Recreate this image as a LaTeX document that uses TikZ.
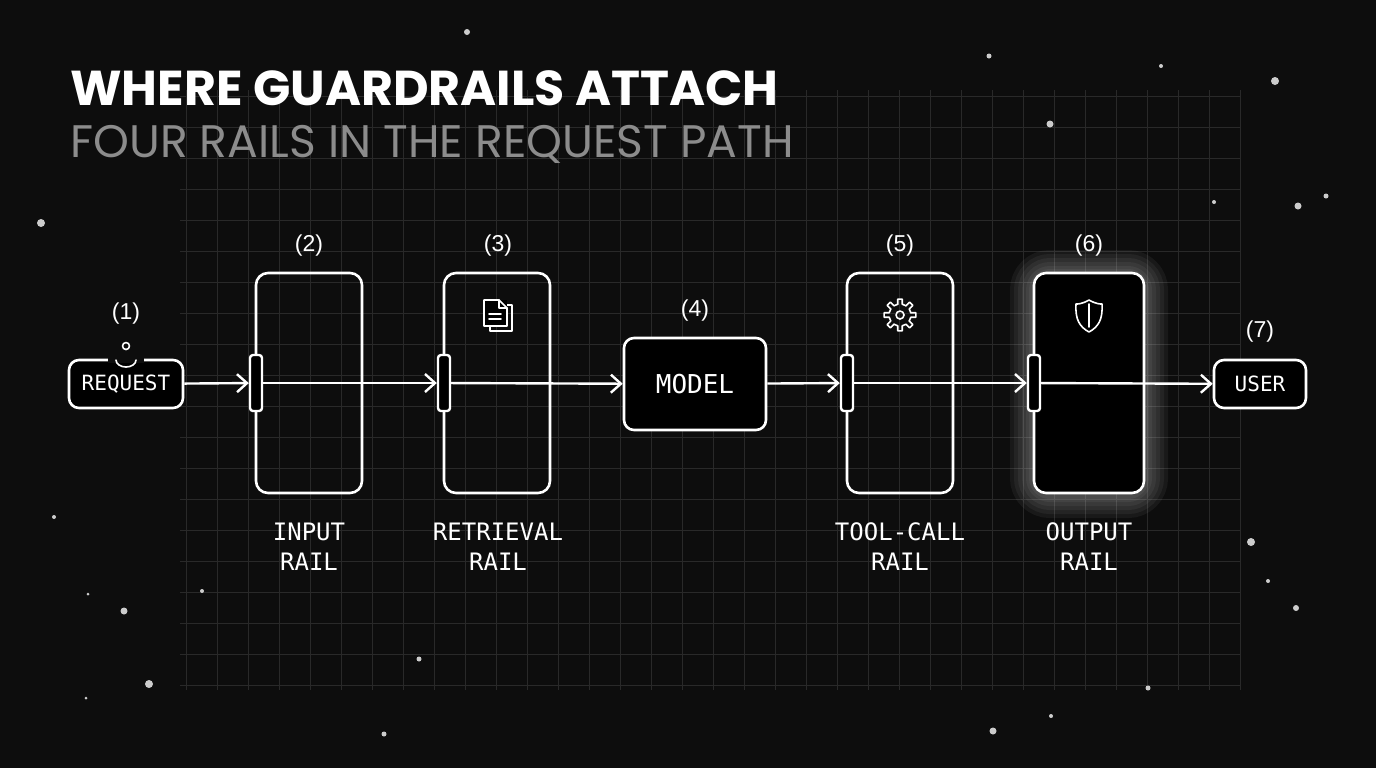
\documentclass[tikz,border=0pt]{standalone}
\usepackage{fontspec}
\setmainfont{Liberation Sans}
\newfontfamily\titlefont{Poppins}
\newfontfamily\monofont{DejaVu Sans Mono}
\usetikzlibrary{positioning,calc,arrows.meta}

\begin{document}
\begin{tikzpicture}[x=0.5pt, y=-0.5pt, >={Straight Barb[length=5pt,width=9pt]}]
    \tikzset{rail/.style = {draw=white, line width=1.3pt, rounded corners=6pt, minimum width=53pt, minimum height=110pt, inner sep=0pt},
             gate/.style = {draw=white, fill=black, line width=1.2pt, rounded corners=1.5pt, minimum width=6pt, minimum height=28pt, inner sep=0pt},
             box/.style = {draw=white, fill=black, line width=1.3pt, rounded corners=5pt, text=white, font=\monofont\fontsize{10.5}{12}\selectfont, inner sep=0pt},
             num/.style = {text=white, font=\fontsize{11.5}{13}\selectfont},
             caption/.style = {text=white, font=\monofont\fontsize{12}{15}\selectfont, align=center},
             flow/.style = {draw=white, line width=1.2pt, ->},
             icon/.style = {draw=white, line width=0.8pt, line join=round, line cap=round}}
    % Background
    \fill[black!95] (0,0) rectangle (1376,768);
    \foreach \x in {186,217,...,1240} \draw[white!16!black, line width=0.4pt] (\x,90) -- (\x,690);
    \foreach \y in {96,127,...,690} \draw[white!16!black, line width=0.4pt] (180,\y) -- (1240,\y);
    \foreach \x/\y/\r in {467/32/3,989/56/2.5,1161/66/2,1275/81/4,1050/124/3.5,41/223/4,1326/196/2.5,1298/206/3.5,1214/202/2,54/517/2,1251/542/4,1268/581/2,1296/608/3,124/611/3.5,202/591/2,88/594/1.5,419/659/2.5,149/684/4,1148/688/2.5,86/698/1.5,1051/716/2,993/731/3.5,384/734/2.5}
        \fill[white!80!black] (\x,\y) circle (\r);
    % Title
    \node[anchor=base west, inner sep=0pt, text=white, font=\titlefont\bfseries\fontsize{24.5}{28}\selectfont] (title) at (70,105) {WHERE GUARDRAILS ATTACH};
    \node[anchor=base west, inner sep=0pt, text=white!55!black, font=\titlefont\fontsize{22.8}{26}\selectfont] (subtitle) at (70,157) {FOUR RAILS IN THE REQUEST PATH};

    % Rails
    \foreach \w in {24,20,16,12,8,5} \draw[white, opacity=0.05, line width=\w pt, rounded corners=8pt] (1034,274) rectangle (1144,494);
    \node[rail] (input) at (309,383) {};
    \node[rail] (retrieval) at (497,383) {};
    \node[rail] (toolcall) at (900,383) {};
    \node[rail, minimum width=55pt, fill=black] (output) at (1089,383) {};
    \node[gate] (g2) at (256,383) {};
    \node[gate] (g3) at (444,383) {};
    \node[gate] (g5) at (847,383) {};
    \node[gate] (g6) at (1034,383) {};

    % End nodes
    \node[box, minimum width=57pt, minimum height=24pt] (request) at (126,384) {REQUEST};
    \node[box, minimum width=71pt, minimum height=46pt, font=\monofont\fontsize{13}{15}\selectfont] (model) at (695,384) {MODEL};
    \node[box, minimum width=46pt, minimum height=24pt] (user) at (1260,384) {USER};

    % Numbers and captions
    \node[num] (n1) at (126,314) {(1)};
    \node[num] (n2) at (309,246) {(2)};
    \node[num] (n3) at (498,246) {(3)};
    \node[num] (n4) at (695,311) {(4)};
    \node[num] (n5) at (900,246) {(5)};
    \node[num] (n6) at (1089,246) {(6)};
    \node[num] (n7) at (1260,332) {(7)};
    \node[caption] (c2) at (309,547) {INPUT\\RAIL};
    \node[caption] (c3) at (498,547) {RETRIEVAL\\RAIL};
    \node[caption] (c5) at (900,547) {TOOL-CALL\\RAIL};
    \node[caption] (c6) at (1089,547) {OUTPUT\\RAIL};

    % Icons
    \fill[black!95] (108,357) rectangle (144,363);
    \draw[icon] (126,346) circle (3.5);
    \draw[icon] (116,360) arc[start angle=180, end angle=0, x radius=10, y radius=7];
    \draw[icon] (490,305) rectangle (512,331);
    \fill[black] (484,300) rectangle (507,326);
    \draw[icon] (484,300) -- (499,300) -- (507,308) -- (507,326) -- (484,326) -- cycle;
    \draw[icon] (499,300) -- (499,308) -- (507,308);
    \draw[icon] (489,314) -- (501,314) (489,319) -- (501,319);
    \draw[icon] (900,315) circle (4);
    \foreach \a in {0,45,...,315}
        \draw[icon] ($(900,315)+(\a-12:11)$) -- ($(900,315)+(\a-8:16)$) -- ($(900,315)+(\a+8:16)$) -- ($(900,315)+(\a+12:11)$) arc[start angle=\a+12, end angle=\a+33, radius=11];
    \draw[icon] (1089,300) .. controls (1082,304) and (1078,304) .. (1076,304) .. controls (1075,320) and (1080,327) .. (1089,332) .. controls (1098,327) and (1103,320) .. (1102,304) .. controls (1100,304) and (1096,304) .. (1089,300) -- cycle;
    \draw[icon] (1089,304) -- (1089,327);

    % Edges
    \draw[flow] (request) -- (g2);
    \draw[flow] (g2) -- (g3);
    \draw[flow] (g3) -- (model);
    \draw[flow] (model) -- (g5);
    \draw[flow] (g5) -- (g6);
    \draw[flow] (g6) -- (user);
\end{tikzpicture}
\end{document}
